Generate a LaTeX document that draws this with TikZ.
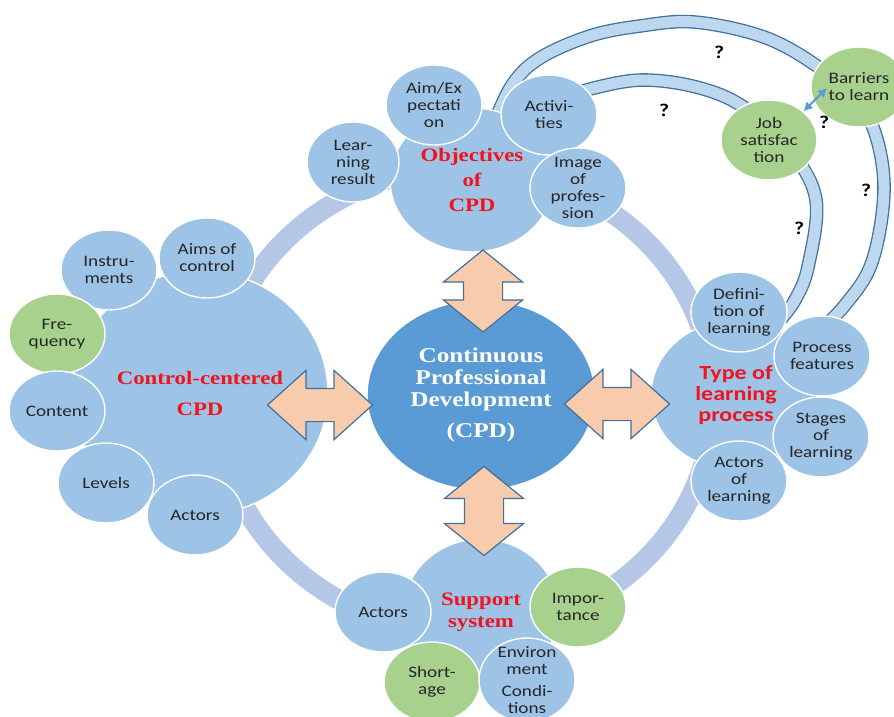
\documentclass[tikz,border=0pt]{standalone}
\usepackage{fontspec}
\setmainfont{Carlito}[FakeStretch=1.2]
\newfontfamily\hdserif{Liberation Serif}[FakeStretch=1.2]
\usepackage{tikz}
\usetikzlibrary{shapes.geometric, shapes.arrows, arrows.meta}
\definecolor{ringblue}{HTML}{B4C7E7}
\definecolor{bubblue}{HTML}{9DC3E6}
\definecolor{midblue}{HTML}{5B9BD5}
\definecolor{leafgreen}{HTML}{A9D18E}
\definecolor{tubefill}{HTML}{BDD7EE}
\definecolor{tubeline}{HTML}{41719C}
\definecolor{peach}{HTML}{F8CBAD}
\definecolor{hdred}{HTML}{F0141E}
\tikzstyle{bubble} = [ellipse, minimum width=96pt, minimum height=80pt, inner sep=-6pt, fill=bubblue, draw=white, line width=1.4pt, align=center, text=black!85, font=\fontsize{16}{17}\selectfont]
\tikzstyle{leaf} = [bubble, fill=leafgreen]
\tikzstyle{hub} = [ellipse, inner sep=0pt, fill=bubblue, draw=white, line width=1.4pt, align=center, text=hdred, font=\hdserif\bfseries\fontsize{19}{25}\selectfont]
\tikzstyle{core} = [ellipse, minimum width=228pt, minimum height=190pt, inner sep=0pt, fill=midblue, draw=white, line width=1.4pt, align=center, text=white, font=\hdserif\bfseries\fontsize{21}{22}\selectfont]
\tikzstyle{ring} = [draw=ringblue, line width=20pt]
\tikzstyle{tube} = [draw=tubeline, line width=1.3pt, double=tubefill, double distance=11pt]
\tikzstyle{blockarrow} = [double arrow, fill=peach, draw=tubeline, line width=1.2pt, inner xsep=0pt, inner ysep=16pt, double arrow head extend=18pt, double arrow tip angle=84, minimum height=105pt]
\tikzstyle{vblockarrow} = [blockarrow, rotate=90, inner ysep=19pt, double arrow head extend=20pt, double arrow tip angle=102]
\tikzstyle{qmark} = [font=\bfseries\fontsize{18}{18}\selectfont]
\tikzstyle{link} = [{Latex[length=9pt,width=10pt]}-{Latex[length=9pt,width=10pt]}, draw=midblue, line width=2pt]

\begin{document}
\begin{tikzpicture}[x=1pt, y=-1pt]
	\useasboundingbox (0,0) rectangle (894,717);
	\draw [ring] (465,400) ellipse [x radius=248pt, y radius=232pt];

	% links to the right cluster
	\draw [tube] plot [smooth, tension=0.6] coordinates {(492,128) (512,85) (540,58) (590,36) (640,26) (694,22) (761,36) (811,62) (850,95) (874,130) (884,190) (872,262) (845,305) (815,335)};
	\draw [tube] plot [smooth, tension=0.6] coordinates {(560,100) (594,88) (644,80) (700,88) (745,108) (790,150) (816,200) (808,267) (795,300) (780,320)};

	\node (cpd) [core] at (481,395) {Continuous\\Professional\\Development\\[9pt](CPD)};

	% objectives
	\node (obj) [hub, minimum width=164pt, minimum height=144pt] at (472,180) {Objectives\\of\\CPD};
	\node (learn) [bubble, minimum width=92pt] at (353,162) {Lear-\\ning\\result};
	\node (aimx) [bubble] at (434,105) {Aim/Ex\\pectati\\on};
	\node (activ) [bubble] at (549,115) {Activi-\\ties};
	\node (image) [bubble] at (578,188) {Image\\of\\profes-\\sion};

	% control-centered
	\node (ctrl) [hub, minimum width=256pt, minimum height=244pt] at (200,393) {Control-centered\\[6pt]CPD};
	\node (instr) [bubble] at (109,270) {Instru-\\ments};
	\node (aims) [bubble] at (207,258) {Aims of\\control};
	\node (freq) [leaf] at (57,334) {Fre-\\quency};
	\node (content) [bubble] at (57,411) {Content};
	\node (levels) [bubble] at (106,483) {Levels};
	\node (actc) [bubble] at (195,515) {Actors};

	% type of learning
	\node (typ) [hub, minimum width=170pt, minimum height=150pt, font=\bfseries\fontsize{20}{21}\selectfont] at (736,395) {Type of\\learning\\process};
	\node (defn) [bubble] at (739,312) {Defini-\\tion of\\learning};
	\node (proc) [bubble] at (822,356) {Process\\features};
	\node (stages) [bubble] at (821,437) {Stages\\of\\learning};
	\node (actl) [bubble] at (739,481) {Actors\\of\\learning};

	% support
	\node (sup) [hub, minimum width=156pt, minimum height=146pt, font=\hdserif\bfseries\fontsize{19}{22}\selectfont] at (481,612) {Support\\system};
	\node (acts) [bubble] at (383,612) {Actors};
	\node (imp) [leaf] at (578,607) {Impor-\\tance};
	\node (short) [leaf] at (432,682) {Short-\\age};
	\node (env) [bubble, minimum height=84pt] at (527,680) {Environ\\ment\\[5pt]Condi-\\tions};

	\node (job) [leaf] at (769,140) {Job\\satisfac\\tion};
	\node (barr) [leaf] at (859,87) {Barriers\\to learn};
	\coordinate (barrtip) at (827,88);
	\draw [link] (job.north east) -- (barrtip);

	\node (aL) [blockarrow] at (320,405) {};
	\node (aR) [blockarrow] at (617,404) {};
	\node (aT) [vblockarrow, minimum height=82pt] at (483,291) {};
	\node (aB) [vblockarrow, minimum height=89pt] at (484,511) {};

	\node (q1) [qmark] at (719,52) {?};
	\node (q2) [qmark] at (664,110) {?};
	\node (q3) [qmark] at (824,122) {?};
	\node (q4) [qmark] at (866,190) {?};
	\node (q5) [qmark] at (799,228) {?};
\end{tikzpicture}
\end{document}
